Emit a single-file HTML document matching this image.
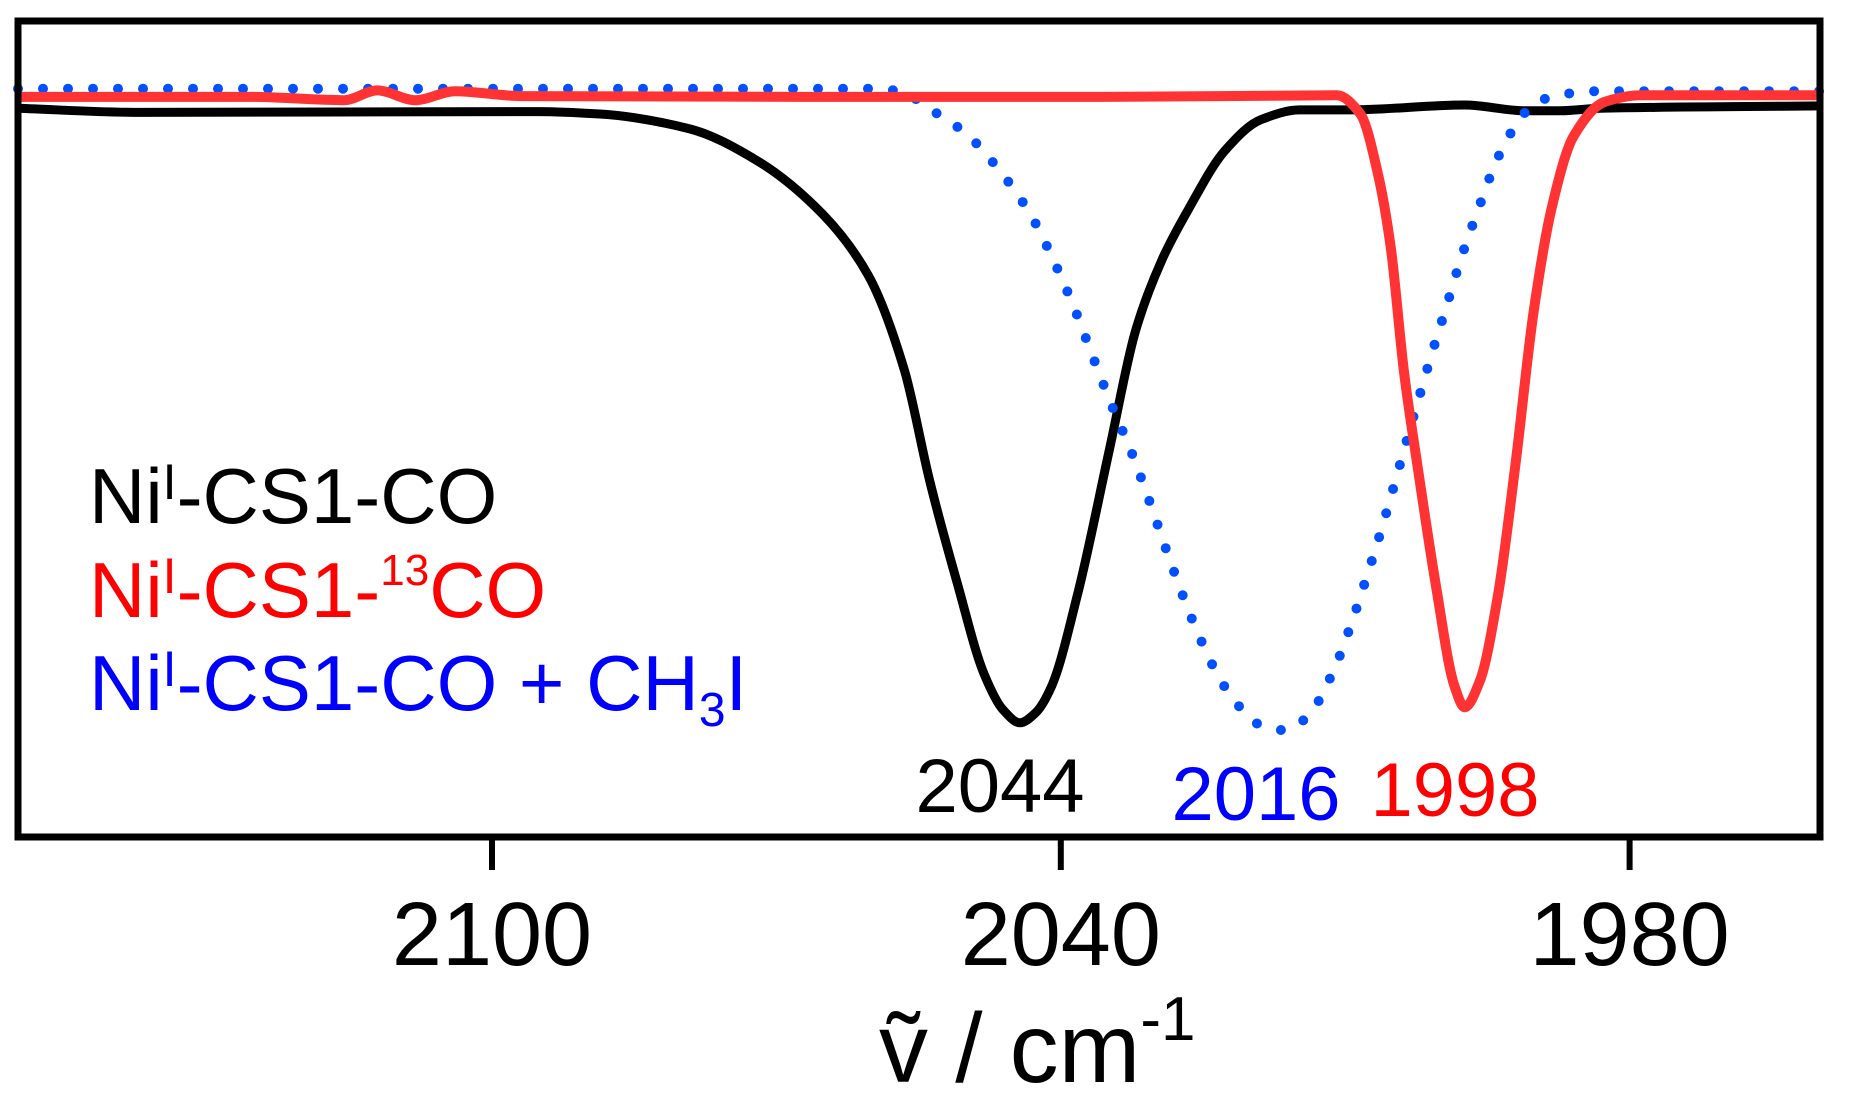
<!DOCTYPE html>
<html><head><meta charset="utf-8"><style>
html,body{margin:0;padding:0;background:#fff;}
svg{display:block;font-family:"Liberation Sans",Arial,sans-serif;}
</style></head><body>
<svg id="chart" width="1855" height="1118" viewBox="0 0 1855 1118" xmlns="http://www.w3.org/2000/svg">
<rect x="0" y="0" width="1855" height="1118" fill="#fff"/>
<g id="series"></g>
<rect x="18" y="21" width="1802" height="816" fill="none" stroke="#000" stroke-width="7"/>
<g id="ticks"></g>
<g font-size="78">
<text x="89" y="523" fill="#000">Ni<tspan font-size="50" dy="-24">I</tspan><tspan dy="24">-CS1-CO</tspan></text>
<text x="89" y="617" fill="#ff0000">Ni<tspan font-size="50" dy="-24">I</tspan><tspan dy="24">-CS1-</tspan><tspan font-size="44" dy="-32">13</tspan><tspan dy="32">CO</tspan></text>
<text x="89" y="710" fill="#0000ff">Ni<tspan font-size="50" dy="-24">I</tspan><tspan dy="24">-CS1-CO + CH</tspan><tspan font-size="48" dy="16">3</tspan><tspan dy="-16">I</tspan></text>
</g>
<text x="1000" y="812" font-size="76" text-anchor="middle" fill="#000">2044</text>
<text x="1256" y="820" font-size="76" text-anchor="middle" fill="#0000ff">2016</text>
<text x="1455" y="816" font-size="76" text-anchor="middle" fill="#ff0000">1998</text>
<text x="879" y="1082" font-size="98" fill="#000">ṽ / cm<tspan font-size="62" dy="-42">-1</tspan></text>
</svg>
<script>
const xTickValues = [2100, 2040, 1980];
const xTickLabels = ["2100", "2040", "1980"];
const blackWn = [2150,2137.1,2095,2088.6,2079.2,2072.2,2065.1,2060.3,2056.5,2053.8,2050.9,2048.1,2046.1,2044.3,2042.6,2041.0,2038.2,2034.9,2032.1,2029.3,2026.5,2022.7,2018.9,2014.8,2009.5,1997.4,1991.0,1987.3,1983.1,1960];
const blackVal = [89.3,88.8,88.9,88.6,86.8,83.0,76.3,68.8,57.2,43.5,31.0,20.0,15.6,14.0,15.3,18.4,29.9,47.3,62.1,70.8,77.0,84.1,87.9,89.1,89.1,89.7,89.0,89.0,89.3,89.6];
const redWn = [2150,2125.5,2115.6,2112.1,2108.1,2103.9,2097.0,2067.5,2035.9,2010.9,2008.4,2006.5,2005.2,2003.8,2002.3,2000.4,1998.5,1997.4,1995.8,1993.9,1992.0,1990.1,1988.2,1985.9,1982.6,1978.8,1960];
const redVal = [90.7,90.7,90.3,91.5,90.3,91.4,90.8,90.7,90.7,90.9,88.6,81.0,72.3,57.0,44.9,30.6,18.6,15.9,19.1,29.5,46.0,64.6,77.2,85.9,90.1,90.9,90.9];
const blueWn = [2150,2059.4,2056.5,2054.2,2050.0,2046.2,2043.1,2040.7,2038.5,2036.6,2034.7,2032.6,2030.7,2028.9,2027.1,2025.1,2022.7,2018.9,2016.5,2014.1,2011.3,2009.4,2007.7,2006.1,2004.6,2002.4,2000.9,1999.3,1997.7,1996.0,1994.1,1992.9,1991.5,1989.1,1983.6,1960];
const blueVal = [91.7,91.7,91.2,89.5,86.2,81.3,76.1,70.5,64.6,58.8,53.1,47.3,41.3,35.3,29.5,23.8,18.4,13.7,13.1,14.6,20.2,26.0,32.0,38.0,44.1,53.1,59.1,65.1,71.2,76.8,82.7,85.5,88.2,90.4,91.4,91.4];

const NS = "http://www.w3.org/2000/svg";
function xScale(w){ return 18 + (2150 - w) * 9.48; }
function yScale(v){ return 837 - v * 8.16; }
// monotone cubic interpolation (Fritsch-Carlson) in screen space
function pathFrom(ws, vs){
  const x = ws.map(xScale), y = vs.map(yScale), n = x.length;
  const d = [], m = new Array(n);
  for (let i=0;i<n-1;i++) d.push((y[i+1]-y[i])/(x[i+1]-x[i]));
  m[0]=d[0]; m[n-1]=d[n-2];
  for (let i=1;i<n-1;i++){
    if (d[i-1]*d[i] <= 0) m[i]=0;
    else { const h0=x[i]-x[i-1], h1=x[i+1]-x[i]; const w1=2*h1+h0, w2=h1+2*h0; m[i]=(w1+w2)/(w1/d[i-1]+w2/d[i]); }
  }
  let s = "M"+x[0].toFixed(1)+","+y[0].toFixed(1);
  for (let i=0;i<n-1;i++){
    const h=(x[i+1]-x[i])/3;
    s += " C"+(x[i]+h).toFixed(1)+","+(y[i]+m[i]*h).toFixed(1)+" "+(x[i+1]-h).toFixed(1)+","+(y[i+1]-m[i+1]*h).toFixed(1)+" "+x[i+1].toFixed(1)+","+y[i+1].toFixed(1);
  }
  return s;
}
const layer = document.getElementById("series");
const black = document.createElementNS(NS,"path");


black.setAttribute("d", pathFrom(blackWn, blackVal));
black.setAttribute("fill","none"); black.setAttribute("stroke","#000"); black.setAttribute("stroke-width","9");
black.setAttribute("stroke-linejoin","round");
layer.appendChild(black);
const blue = document.createElementNS(NS,"path");


blue.setAttribute("d", pathFrom(blueWn, blueVal));
blue.setAttribute("fill","none"); blue.setAttribute("stroke","#0050ff"); blue.setAttribute("stroke-width","10");
blue.setAttribute("stroke-linecap","round"); blue.setAttribute("stroke-dasharray","0 25");
layer.appendChild(blue);
const red = document.createElementNS(NS,"path");


red.setAttribute("d", pathFrom(redWn, redVal));
red.setAttribute("fill","none"); red.setAttribute("stroke","#ff3333"); red.setAttribute("stroke-width","10");
red.setAttribute("stroke-linejoin","round");
layer.appendChild(red);

const ticks = document.getElementById("ticks");
xTickValues.forEach((v,i)=>{
  const x = xScale(v);
  const l = document.createElementNS(NS,"line");
  
  
  l.setAttribute("x1",x); l.setAttribute("x2",x); l.setAttribute("y1",837); l.setAttribute("y2",870);
  l.setAttribute("stroke","#000"); l.setAttribute("stroke-width","6");
  ticks.appendChild(l);
  const t = document.createElementNS(NS,"text");
  
  
  t.setAttribute("x",x); t.setAttribute("y",965); t.setAttribute("font-size","90");
  t.setAttribute("text-anchor","middle"); t.textContent = xTickLabels[i];
  ticks.appendChild(t);
});
</script>
</body></html>
